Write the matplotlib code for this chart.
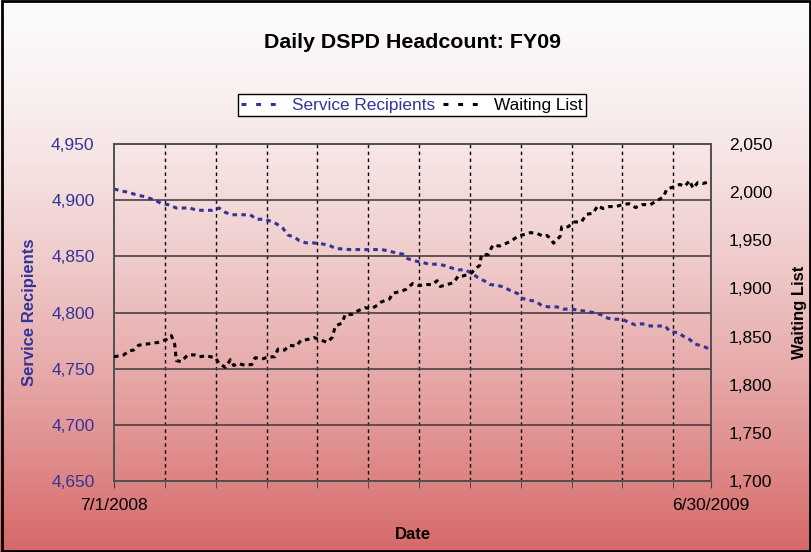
import numpy as np
import matplotlib
matplotlib.use("Agg")
import matplotlib.pyplot as plt
from matplotlib.lines import Line2D
from matplotlib.patches import Rectangle
from matplotlib.ticker import FuncFormatter

plt.rcParams['font.family'] = ['Liberation Sans', 'DejaVu Sans']

# ---- data (day index from 7/1/2008) ----
service_days = [0, 5, 9, 13, 19, 25, 29, 33, 38, 46, 51, 60, 64, 68, 72, 79, 83, 87, 92, 96,
                99, 103, 106, 110, 113, 117, 121, 127, 131, 135, 144, 153, 163, 167, 172, 176,
                179, 183, 187, 192, 197, 201, 205, 210, 214, 218, 222, 226, 229, 234, 237, 241,
                246, 248, 253, 257, 261, 265, 270, 274, 279, 284, 288, 292, 297, 301, 304, 310,
                314, 318, 322, 327, 331, 336, 339, 344, 347, 351, 354, 359, 364]
service_vals = [4910, 4908, 4907, 4905, 4903, 4900, 4897, 4896, 4893, 4893, 4891, 4891, 4893,
                4889, 4887, 4887, 4887, 4883, 4883, 4881, 4879, 4875, 4869, 4867, 4864, 4862,
                4862, 4861, 4860, 4857, 4856, 4856, 4856, 4855, 4853, 4852, 4848, 4846, 4845,
                4843, 4843, 4842, 4840, 4838, 4838, 4835, 4831, 4828, 4825, 4824, 4823, 4820,
                4817, 4813, 4811, 4810, 4806, 4805, 4805, 4803, 4803, 4802, 4801, 4800, 4798,
                4795, 4794, 4794, 4791, 4789, 4790, 4788, 4788, 4788, 4783, 4782, 4779, 4776,
                4772, 4770, 4767]

waiting_days = [0, 6, 9, 12, 15, 19, 23, 27, 32, 35, 37, 38, 41, 45, 49, 52, 56, 59, 62, 64,
                68, 71, 73, 76, 80, 84, 86, 91, 94, 98, 100, 104, 107, 111, 114, 118, 122, 125,
                130, 133, 135, 139, 141, 145, 149, 153, 157, 161, 163, 168, 170, 175, 178, 182,
                186, 190, 194, 197, 199, 203, 207, 210, 213, 218, 220, 223, 224, 228, 231, 235,
                238, 242, 246, 250, 254, 258, 262, 264, 266, 268, 272, 273, 277, 280, 285, 288,
                292, 295, 298, 302, 306, 310, 314, 318, 322, 327, 331, 335, 337, 342, 345, 348,
                351, 353, 356, 359, 364]
waiting_vals = [1829, 1831, 1835, 1836, 1841, 1842, 1843, 1844, 1847, 1851, 1842, 1825, 1824,
                1831, 1831, 1829, 1830, 1829, 1828, 1822, 1818, 1826, 1820, 1822, 1820, 1821,
                1828, 1827, 1829, 1829, 1837, 1836, 1841, 1840, 1846, 1847, 1849, 1847, 1844,
                1849, 1861, 1864, 1873, 1873, 1877, 1880, 1879, 1883, 1886, 1889, 1895, 1897,
                1899, 1905, 1903, 1904, 1904, 1908, 1902, 1904, 1906, 1913, 1913, 1916, 1920,
                1924, 1935, 1935, 1945, 1944, 1946, 1949, 1954, 1956, 1958, 1957, 1954, 1955,
                1952, 1947, 1954, 1964, 1964, 1969, 1969, 1977, 1978, 1986, 1983, 1985, 1985,
                1987, 1988, 1984, 1987, 1987, 1991, 1995, 2003, 2006, 2008, 2006, 2012, 2004,
                2010, 2009, 2011]

x_tick_days = [0, 364]
x_tick_labels = ["7/1/2008", "6/30/2009"]
grid_days = list(range(31, 364, 31))

BLUE = "#333399"

W, H = 812, 552
fig = plt.figure(figsize=(W / 100, H / 100), dpi=100)

# gradient background
bg = fig.add_axes([0, 0, 1, 1], zorder=-10)
f = np.linspace(0, 1, 300) ** 1.5
top = np.array([252, 250, 250]) / 255
bot = np.array([214, 104, 104]) / 255
grad = top[None, :] + (bot - top)[None, :] * f[:, None]
bg.imshow(grad[:, None, :], aspect='auto', extent=[0, 1, 0, 1], origin='upper')
bg.set_axis_off()

ax = fig.add_axes([114 / W, 1 - 481 / H, 597 / W, 337 / H])
ax.set_facecolor('none')
ax2 = ax.twinx()

ax.plot(service_days, service_vals, color=BLUE, lw=2.2, linestyle=(0, (1.5, 1.4)), zorder=3)
ax2.plot(waiting_days, waiting_vals, color='black', lw=2.2, linestyle=(0, (1.5, 1.4)), zorder=3)

ax.set_xlim(0, 364)
ax.set_ylim(4650, 4950)
ax2.set_ylim(1700, 2050)
ax.set_yticks(np.arange(4650, 4951, 50))
ax2.set_yticks(np.arange(1700, 2051, 50))
fmt = FuncFormatter(lambda v, p: f"{int(v):,}")
ax.yaxis.set_major_formatter(fmt)
ax2.yaxis.set_major_formatter(fmt)

ax.set_xticks(x_tick_days)
ax.set_xticklabels(x_tick_labels, fontsize=12.5)
ax.set_xticks(grid_days, minor=True)
ax.tick_params(axis='x', which='both', direction='out', length=5, color='#404040', pad=7)
ax.tick_params(axis='y', length=0, pad=14, labelsize=12.5, labelcolor=BLUE)
ax2.tick_params(axis='y', length=0, pad=13, labelsize=12.5, labelcolor='black')

ax.grid(which='major', axis='y', color='#4a4040', lw=1.2)
ax.grid(which='minor', axis='x', color='black', lw=1.0, linestyle=(0, (2.5, 2.5)))
ax.set_axisbelow(True)

for a in (ax, ax2):
    for s in a.spines.values():
        s.set_color('#505050')
        s.set_linewidth(1.2)

ax.set_ylabel("Service Recipients", fontsize=12, fontweight='bold', color=BLUE, labelpad=10)
ax2.set_ylabel("Waiting List", fontsize=12, fontweight='bold', color='black', labelpad=14)
ax.set_xlabel("Date", fontsize=12, fontweight='bold', labelpad=10)

fig.text(412 / W, 1 - 43 / H, "Daily DSPD Headcount: FY09", fontsize=15.4, fontweight='bold',
         ha='center', va='center')

handles = [Line2D([], [], color=BLUE, lw=2.2, linestyle=(0, (1.6, 3.2))),
           Line2D([], [], color='black', lw=2.2, linestyle=(0, (1.6, 3.2)))]
leg = fig.legend(handles, ["Service Recipients", "Waiting List"], loc='center',
                 bbox_to_anchor=(412 / W, 1 - 105 / H), ncol=2, fontsize=12.4, frameon=True,
                 fancybox=False, edgecolor='black', facecolor='white', framealpha=1,
                 handlelength=2.4, handletextpad=0.55, columnspacing=0.45, borderpad=0.2,
                 borderaxespad=0)
leg.get_frame().set_linewidth(1.0)
leg.get_texts()[0].set_color(BLUE)

fig.patches.append(Rectangle((0.002, 0.002), 0.996, 0.996, transform=fig.transFigure,
                             fill=False, edgecolor='black', lw=2))

fig.savefig("out.png", dpi=100)
